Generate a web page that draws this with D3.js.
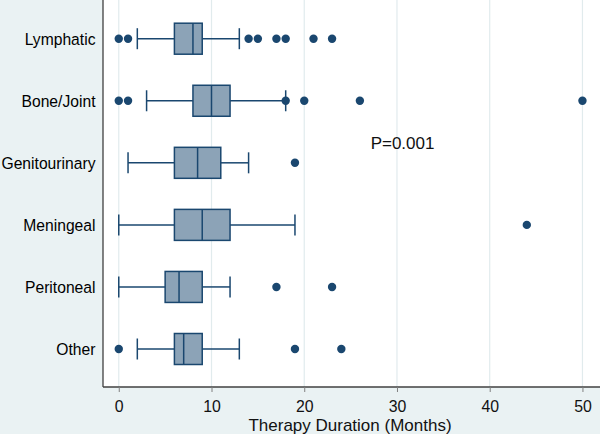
<!DOCTYPE html>
<html><head><meta charset="utf-8">
<script src="https://cdn.jsdelivr.net/npm/d3@7"></script>
<style>
html,body{margin:0;padding:0;background:#eaf2f3;}
svg{display:block;}
text{font-family:"Liberation Sans",Arial,sans-serif;}
</style></head>
<body>
<svg id="chart" width="600" height="434"></svg>
<script>
const categories = ["Lymphatic","Bone/Joint","Genitourinary","Meningeal","Peritoneal","Other"];
const whiskerLow  = [2, 3, 1, 0, 0, 2];
const q1          = [6, 8, 6, 6, 5, 6];
const median      = [8, 10, 8.5, 9, 6.5, 7];
const q3          = [9, 12, 11, 12, 9, 9];
const whiskerHigh = [13, 18, 14, 19, 12, 13];
const outliers = [
  [0, 1, 14, 15, 17, 18, 21, 23],
  [0, 1, 18, 20, 26, 50],
  [19],
  [44],
  [17, 23],
  [0, 19, 24]
];
const xTicks = [0, 10, 20, 30, 40, 50];
const xTitle = "Therapy Duration (Months)";
const pText = "P=0.001";

const plot = {left: 103, right: 601, top: 0, bottom: 387};
const navy = "#1a476f", boxFill = "#8ca3b7", grid = "#e1ebed";

const svg = d3.select("#chart");
const x = d3.scaleLinear().domain([-1.7, 52]).range([plot.left, plot.right]);
const y = d3.scalePoint().domain(categories).range([38.7, 349]);

svg.append("rect").attr("x", plot.left).attr("y", plot.top)
  .attr("width", plot.right - plot.left).attr("height", plot.bottom - plot.top)
  .attr("fill", "#ffffff");

svg.append("g").selectAll("line").data(xTicks).join("line")
  .attr("x1", d => x(d)).attr("x2", d => x(d))
  .attr("y1", plot.top).attr("y2", plot.bottom)
  .attr("stroke", grid).attr("stroke-width", 1.2);

const rows = categories.map((c, i) => ({
  c, lo: whiskerLow[i], q1: q1[i], med: median[i], q3: q3[i], hi: whiskerHigh[i], out: outliers[i]
}));

const boxH = 31, capH = 21;
const g = svg.append("g");
rows.forEach(r => {
  const cy = y(r.c);
  const gg = g.append("g").attr("stroke", navy).attr("stroke-width", 1.5).attr("fill", "none");
  gg.append("line").attr("x1", x(r.lo)).attr("x2", x(r.q1)).attr("y1", cy).attr("y2", cy);
  gg.append("line").attr("x1", x(r.q3)).attr("x2", x(r.hi)).attr("y1", cy).attr("y2", cy);
  gg.append("line").attr("x1", x(r.lo)).attr("x2", x(r.lo)).attr("y1", cy - capH/2).attr("y2", cy + capH/2);
  gg.append("line").attr("x1", x(r.hi)).attr("x2", x(r.hi)).attr("y1", cy - capH/2).attr("y2", cy + capH/2);
  gg.append("rect").attr("x", x(r.q1)).attr("y", cy - boxH/2)
    .attr("width", x(r.q3) - x(r.q1)).attr("height", boxH)
    .attr("fill", boxFill);
  gg.append("line").attr("x1", x(r.med)).attr("x2", x(r.med)).attr("y1", cy - boxH/2).attr("y2", cy + boxH/2);
  g.append("g").selectAll("circle").data(r.out).join("circle")
    .attr("cx", d => x(d)).attr("cy", cy).attr("r", 4.2).attr("fill", navy);
});

const axisColor = "#404040";
svg.append("line").attr("x1", plot.left).attr("x2", plot.left).attr("y1", plot.top).attr("y2", plot.bottom)
  .attr("stroke", axisColor).attr("stroke-width", 1.3);
const xAxis = svg.append("g").attr("transform", `translate(0,${plot.bottom})`)
  .call(d3.axisBottom(x).tickValues(xTicks).tickSize(5).tickPadding(6).tickSizeOuter(0));
xAxis.select(".domain").attr("stroke", axisColor).attr("stroke-width", 1.3)
  .attr("d", `M${plot.left},0H${plot.right}`);
xAxis.selectAll(".tick line").attr("stroke", "#808080");
xAxis.selectAll(".tick text").attr("font-size", 16.5).attr("fill", "#111")
  .attr("font-family", "Liberation Sans, Arial, sans-serif")
  .attr("y", 0).attr("dy", 0)
  .attr("transform", "translate(0,24.5) scale(0.96,1)");

svg.append("g").selectAll("text").data(categories).join("text")
  .attr("transform", d => `translate(${plot.left - 7.5},${y(d)}) scale(0.95,1)`)
  .attr("dy", "0.36em")
  .attr("text-anchor", "end").attr("font-size", 16.5).attr("fill", "#000")
  .text(d => d);

svg.append("text").attr("x", 350).attr("y", 430.5).attr("text-anchor", "middle")
  .attr("font-size", 17).attr("fill", "#111").text(xTitle);

svg.append("text").attr("x", x(30.6)).attr("y", 143.5).attr("dy", "0.35em").attr("text-anchor", "middle")
  .attr("font-size", 17).attr("fill", "#111").text(pText);
</script>
</body></html>
